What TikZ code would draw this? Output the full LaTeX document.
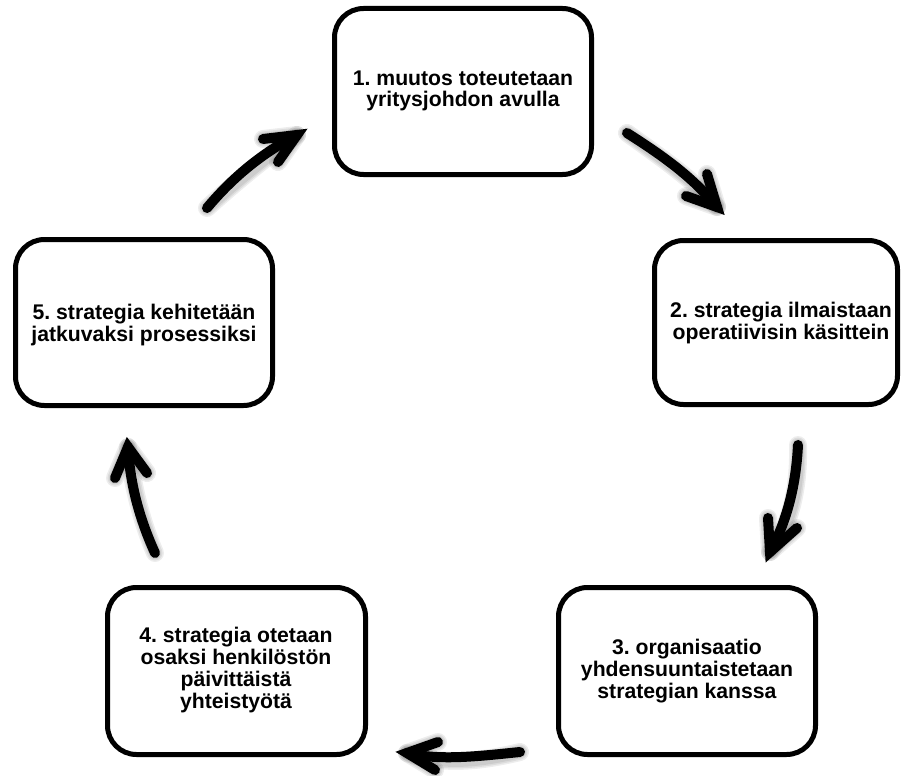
\documentclass[tikz,border=0pt]{standalone}
\usepackage{fontspec}
\setmainfont{Liberation Sans}
\frenchspacing
\begin{document}
\begin{tikzpicture}[x=1pt,y=-1pt,
  stepbox/.style={draw=black,line width=5pt,rounded corners=29pt},
  steptext/.style={align=center,font=\fontsize{21.2}{21.8}\selectfont\bfseries,inner sep=0pt},
  bigarrow/.style={line width=10pt,line cap=round,draw=black},
  arrowhead/.style={line width=10pt,line cap=round,line join=miter,draw=black},
  shade/.style={line width=#1,line cap=round,line join=round,draw=black,opacity=0.07}
]
\useasboundingbox (0,0) rectangle (902,776);

% boxes
\draw[stepbox] (334.5,8.5) rectangle (591.5,174.5);
\draw[stepbox] (654.5,240.5) rectangle (897.5,404.5);
\draw[stepbox] (558.5,587.5) rectangle (815.5,754.5);
\draw[stepbox] (107.5,587.5) rectangle (365.5,754.5);
\draw[stepbox] (15.5,239.5) rectangle (272.5,405.5);

\node[steptext] (s1) at (463,91) {1. muutos toteutetaan\\yritysjohdon avulla};
\node[steptext] (s2) at (781,323) {2. strategia ilmaistaan\\operatiivisin käsittein};
\node[steptext] (s3) at (687,671) {3. organisaatio\\yhdensuuntaistetaan\\strategian kanssa};
\node[steptext] (s4) at (236,670) {4. strategia otetaan\\osaksi henkilöstön\\päivittäistä\\yhteistyötä};
\node[steptext] (s5) at (144,325) {5. strategia kehitetään\\jatkuvaksi prosessiksi};

% arrow coordinates
\coordinate (a1s) at (627,133); \coordinate (a1t) at (717,207);
\coordinate (a1b) at (686,196); \coordinate (a1c) at (707,174);
\coordinate (a2s) at (798,445); \coordinate (a2t) at (770,552);
\coordinate (a2b) at (768,518); \coordinate (a2c) at (797,528);
\coordinate (a3s) at (520,752); \coordinate (a3t) at (407,753);
\coordinate (a3b) at (438,742); \coordinate (a3c) at (435,770);
\coordinate (a4s) at (155,553); \coordinate (a4t) at (128,447);
\coordinate (a4b) at (115,478); \coordinate (a4c) at (147,473);
\coordinate (a5s) at (207,208); \coordinate (a5t) at (297,135);
\coordinate (a5b) at (263,139); \coordinate (a5c) at (278,162);

% soft shadows
\foreach \w in {18,15,12}{
  \begin{scope}[shift={(3,5)}]
  \draw[shade=\w pt] (a1s) .. controls (660,154) and (692,176) .. (a1t);
  \draw[shade=\w pt] (a1b) -- (a1t) -- (a1c);
  \draw[shade=\w pt] (a2s) .. controls (796,485) and (787,521) .. (a2t);
  \draw[shade=\w pt] (a2b) -- (a2t) -- (a2c);
  \draw[shade=\w pt] (a3s) .. controls (480,756) and (440,761) .. (a3t);
  \draw[shade=\w pt] (a3b) -- (a3t) -- (a3c);
  \draw[shade=\w pt] (a4s) .. controls (140,520) and (130,485) .. (a4t);
  \draw[shade=\w pt] (a4b) -- (a4t) -- (a4c);
  \draw[shade=\w pt] (a5s) .. controls (232,178) and (262,153) .. (a5t);
  \draw[shade=\w pt] (a5b) -- (a5t) -- (a5c);
  \end{scope}
}

% arrows
\draw[bigarrow] (a1s) .. controls (660,154) and (692,176) .. (a1t);
\draw[arrowhead] (a1b) -- (a1t) -- (a1c);
\draw[bigarrow] (a2s) .. controls (796,485) and (787,521) .. (a2t);
\draw[arrowhead] (a2b) -- (a2t) -- (a2c);
\draw[bigarrow] (a3s) .. controls (480,756) and (440,761) .. (a3t);
\draw[arrowhead] (a3b) -- (a3t) -- (a3c);
\draw[bigarrow] (a4s) .. controls (140,520) and (130,485) .. (a4t);
\draw[arrowhead] (a4b) -- (a4t) -- (a4c);
\draw[bigarrow] (a5s) .. controls (232,178) and (262,153) .. (a5t);
\draw[arrowhead] (a5b) -- (a5t) -- (a5c);
\end{tikzpicture}
\end{document}
